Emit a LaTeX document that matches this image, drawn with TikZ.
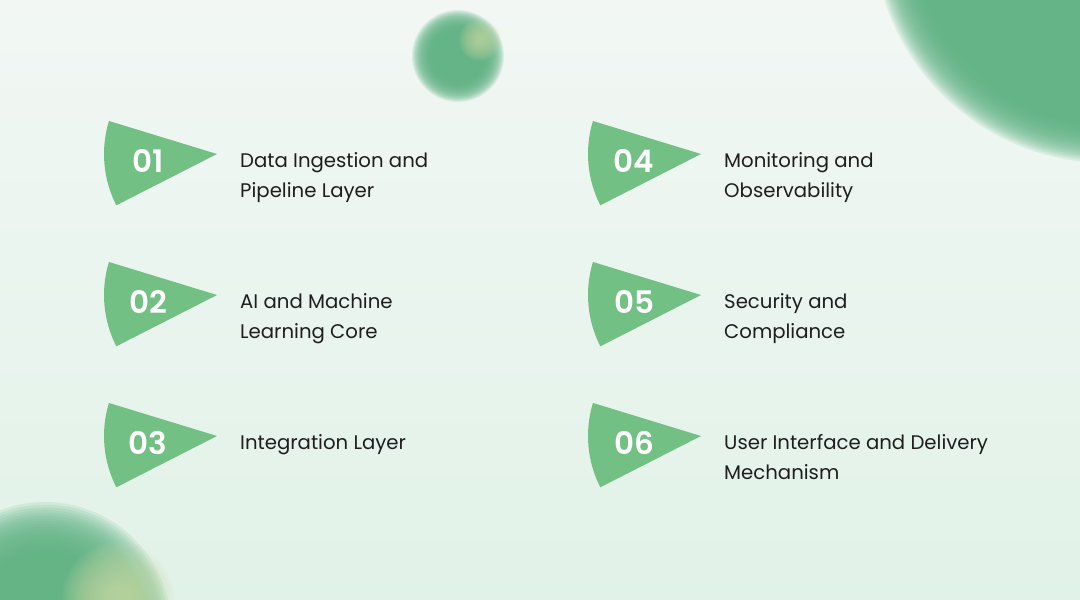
\documentclass[tikz,border=0pt]{standalone}
\usepackage{fontspec}
\setmainfont{Poppins}
\newfontfamily\numfont{Poppins SemiBold}
\definecolor{wedgegreen}{RGB}{115,192,132}
\definecolor{blobgreen}{RGB}{98,180,134}
\definecolor{blobhi}{RGB}{206,222,168}
\definecolor{bgtop}{RGB}{242,247,244}
\definecolor{bgbot}{RGB}{225,242,232}
\definecolor{ink}{RGB}{30,30,30}
\newcommand\softdisc[6]{%
  \foreach \k in {0,...,19}{\fill[#5,opacity=#6] (#1,#2) circle[radius={#3+#4-\k*2*#4/19}];}}
\tikzset{
  num/.style={font=\numfont\fontsize{31}{31}\selectfont, text=white, inner sep=0pt},
  lbl/.style={font=\fontsize{19.7}{30}\selectfont, text=ink, align=left, inner sep=0pt, anchor=base west},
  wedge/.style={fill=wedgegreen},
}
\begin{document}
\begin{tikzpicture}[x=1pt,y=-1pt]
\fill[top color=bgtop,bottom color=bgbot] (0,0) rectangle (1080,600);
\useasboundingbox (0,0) rectangle (1080,600);
\begin{scope}
\clip (0,0) rectangle (1080,600);
\softdisc{1108}{-72}{215}{20}{blobgreen}{0.15}
\softdisc{458}{56}{36}{10}{blobgreen}{0.15}
\softdisc{480}{40}{12}{9}{blobhi}{0.06}
\softdisc{45}{628}{100}{26}{blobgreen}{0.15}
\softdisc{118}{598}{34}{22}{blobhi}{0.07}
\end{scope}
% wedges
\foreach \ax/\cy in {217/162,217/303,217/444,701/162,701/303,701/444}{
  \fill[wedge] (\ax,\cy-8) -- ++(197:113) arc[start angle=197,end angle=153,radius=113] -- cycle;
}
\node[num] (n1) at (148,161) {01};
\node[num] (n2) at (148,302) {02};
\node[num] (n3) at (148,443) {03};
\node[num] (n4) at (634,161) {04};
\node[num] (n5) at (634,302) {05};
\node[num] (n6) at (634,443) {06};
\node[lbl] (t1) at (240,197) {Data Ingestion and\\Pipeline Layer};
\node[lbl] (t2) at (240,338) {AI and Machine\\Learning Core};
\node[lbl] (t3) at (240,449) {Integration Layer};
\node[lbl] (t4) at (724,197) {Monitoring and\\Observability};
\node[lbl] (t5) at (724,338) {Security and\\Compliance};
\node[lbl] (t6) at (724,479) {User Interface and Delivery\\Mechanism};
\end{tikzpicture}
\end{document}
